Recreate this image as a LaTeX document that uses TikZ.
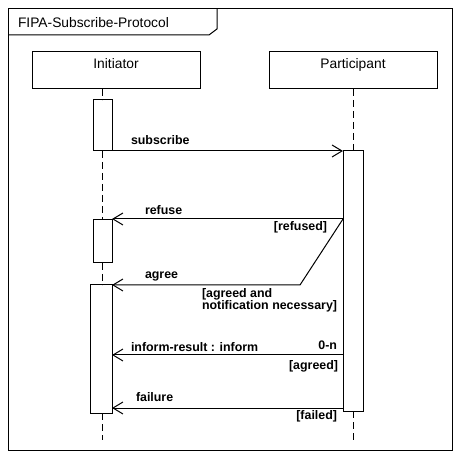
\documentclass[tikz,border=0pt]{standalone}
\usepackage{fontspec}
\setmainfont{Liberation Sans}
\usetikzlibrary{arrows.meta}
\begin{document}
\begin{tikzpicture}[x=1pt,y=-1pt,
  every node/.style={inner sep=0pt, outer sep=0pt},
  framebox/.style={draw, line width=1pt},
  headbox/.style={draw, line width=1pt, fill=white, minimum width=168pt, minimum height=37pt},
  actbox/.style={draw, line width=1pt, fill=white, anchor=north west},
  lifeline/.style={line width=1pt, dash pattern=on 7pt off 4pt},
  msg/.style={line width=1pt, -{Straight Barb[length=10pt,width=12pt,line width=1pt]}},
  plain/.style={font=\fontsize{13.8}{14}\selectfont},
  lbl/.style={font=\fontsize{12.4}{12}\selectfont\bfseries}
]
\useasboundingbox (0,0) rectangle (461,457);
% outer frame and title tab
\draw[framebox] (8,9) rectangle (452,450);
\draw[line width=1pt] (8,35) -- (209,35) -- (217,29) -- (217,9);
\node[plain, anchor=base west] (title) at (18,28) {FIPA-Subscribe-Protocol};
% lifeline heads
\node[headbox] (ini) at (116,70.5) {};
\node[plain, anchor=base] (iniL) at (116,69) {Initiator};
\node[headbox] (par) at (353,70.5) {};
\node[plain, anchor=base] (parL) at (353,69) {Participant};
% activation boxes
\node[actbox, minimum width=19pt, minimum height=51pt] (a1) at (93,100) {};
\node[actbox, minimum width=19pt, minimum height=43pt] (a2) at (93,220) {};
\node[actbox, minimum width=22pt, minimum height=128pt] (a3) at (90,285) {};
\node[actbox, minimum width=20pt, minimum height=260pt] (p1) at (343,151) {};
% lifeline ends
\coordinate (iend) at (102.5,440);
\coordinate (pend) at (353,440);
% lifelines
\draw[lifeline] (ini.south -| a1.north) -- (a1.north);
\draw[lifeline] (a1.south) -- (a2.north);
\draw[lifeline] (a2.south) -- (a3.north -| a2.south);
\draw[lifeline] (a3.south -| a2.south) -- (iend);
\draw[lifeline] (par.south) -- (p1.north);
\draw[lifeline] (p1.south) -- (pend);
% message levels
\coordinate (refY) at (0,219);
\coordinate (bend) at (300,285);
\coordinate (infY) at (0,355);
\coordinate (failY) at (0,408);
% messages
\draw[msg] (a1.south east) -- (p1.north west);
\draw[msg] (p1.west |- refY) -- (a2.east |- refY);
\draw[msg] (p1.west |- refY) -- (bend) -- (a3.north east);
\draw[msg] (p1.west |- infY) -- (a3.east |- infY);
\draw[msg] (p1.west |- failY) -- (a3.east |- failY);
% labels
\node[lbl, anchor=base west] (lsub) at (131,145) {subscribe};
\node[lbl, anchor=base west] (lref) at (145,215) {refuse};
\node[lbl, anchor=base east] (gref) at (327,231) {[refused]};
\node[lbl, anchor=base west] (lagr) at (145,279) {agree};
\node[lbl, anchor=north west, align=left] (gagr) at (202,289) {[agreed and\\notification necessary]};
\node[lbl, anchor=base west] (linf) at (131,352) {inform-result : inform};
\node[lbl, anchor=base east] (mult) at (337,350) {0-n};
\node[lbl, anchor=base east] (ginf) at (338,370) {[agreed]};
\node[lbl, anchor=base west] (lfail) at (136,401) {failure};
\node[lbl, anchor=base east] (gfail) at (337,419) {[failed]};
\end{tikzpicture}
\end{document}
